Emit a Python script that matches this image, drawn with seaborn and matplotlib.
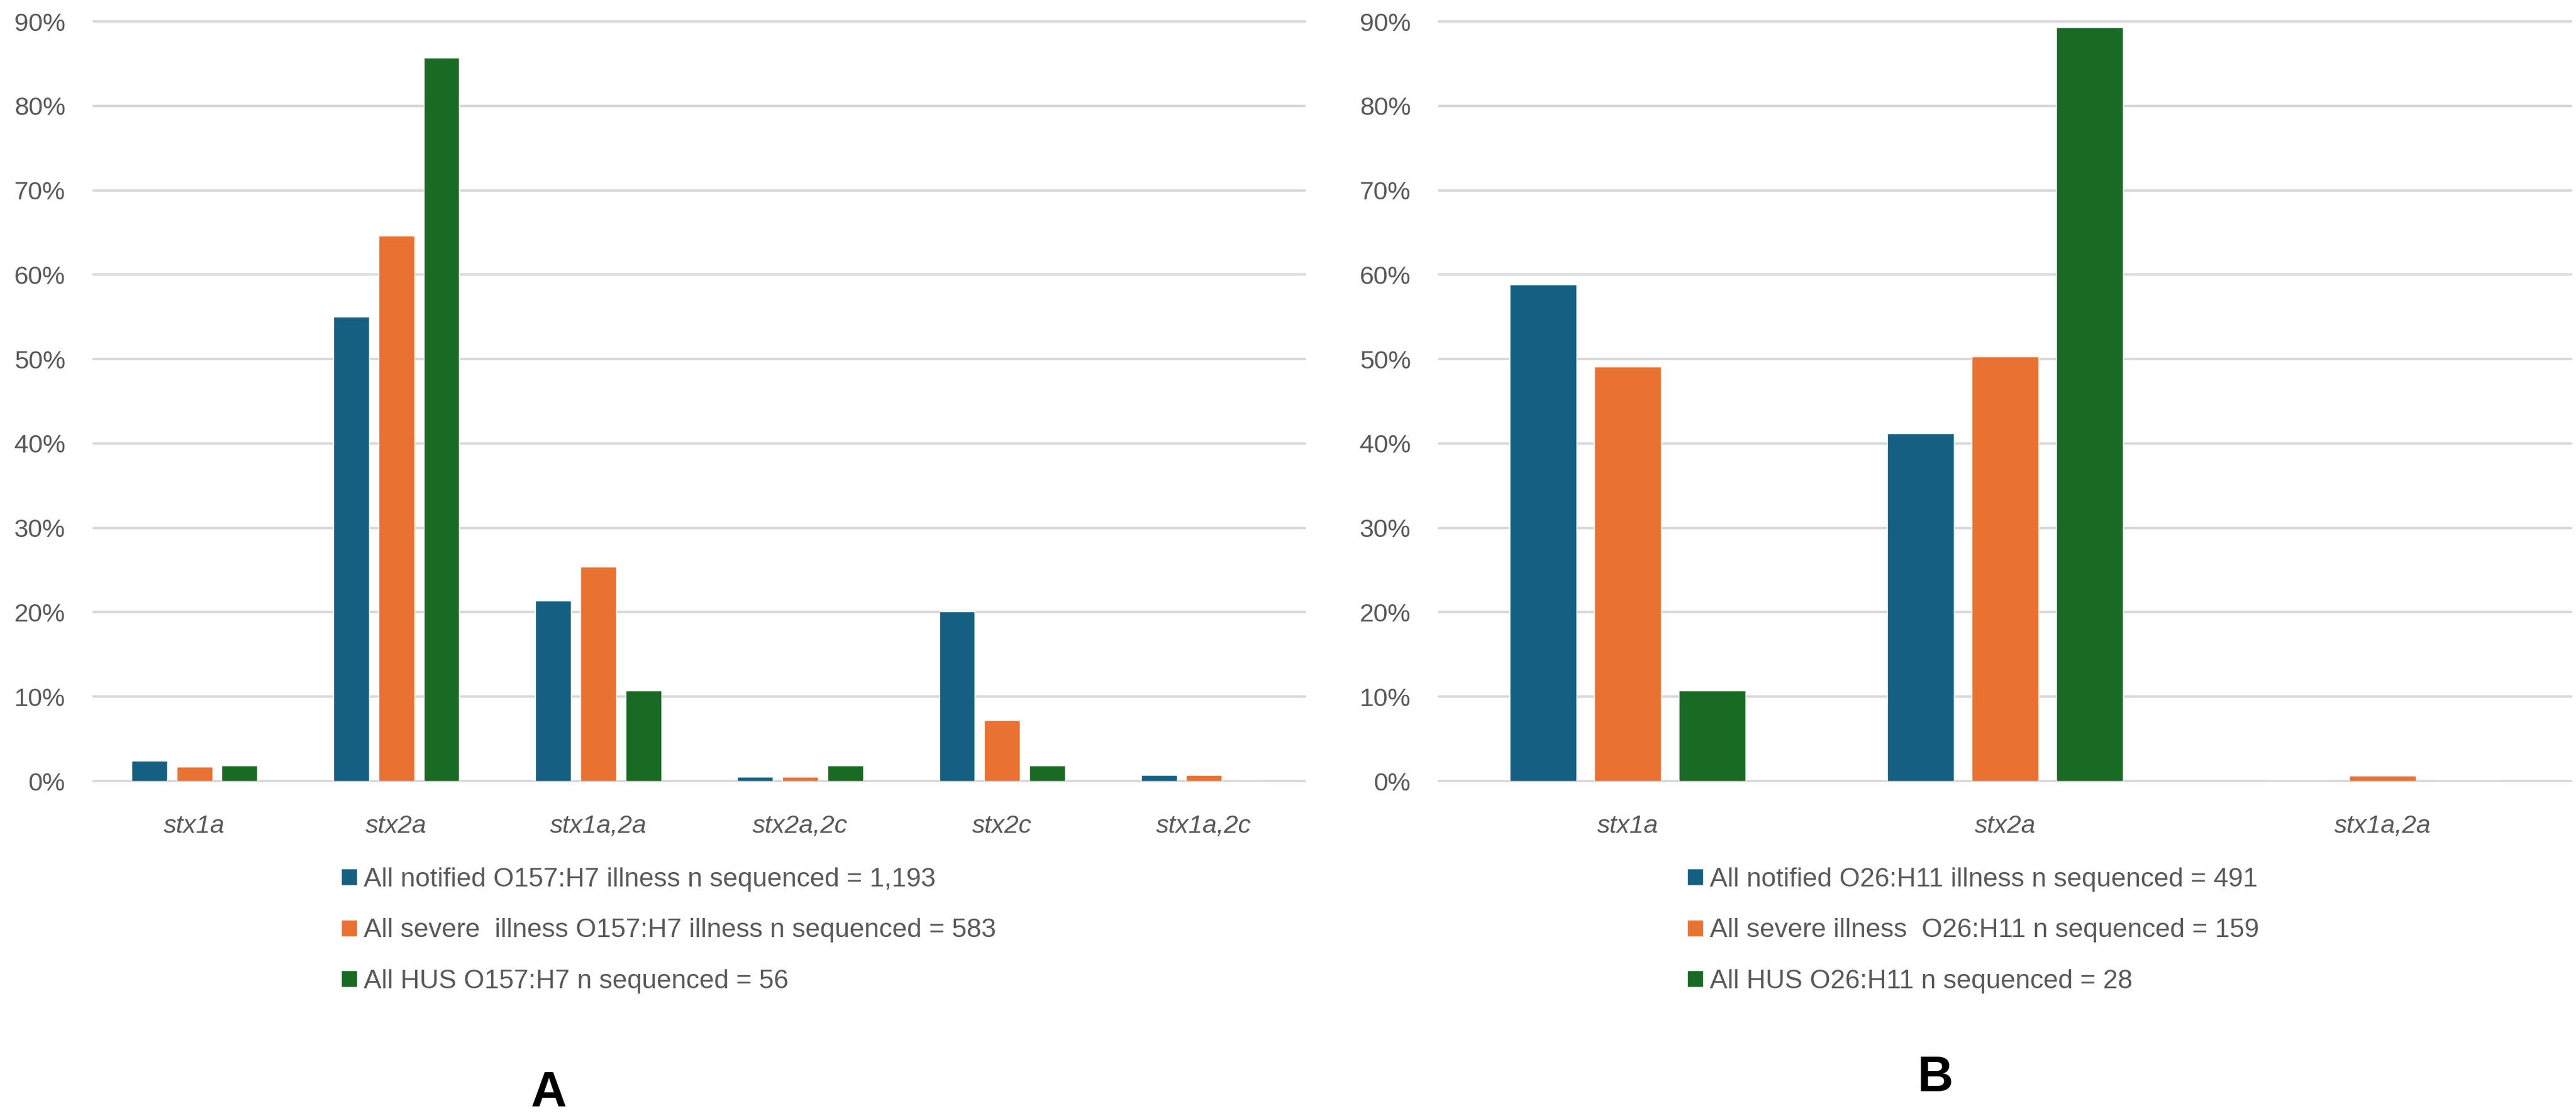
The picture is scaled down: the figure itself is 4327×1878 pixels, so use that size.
import matplotlib
matplotlib.use("Agg")
import matplotlib.pyplot as plt
from matplotlib.ticker import PercentFormatter
import seaborn as sns
import pandas as pd

# Panel A: O157:H7
o157_genes = ["stx1a", "stx2a", "stx1a,2a", "stx2a,2c", "stx2c", "stx1a,2c"]
o157_labels = [
    "All notified O157:H7 illness n sequenced = 1,193",
    "All severe  illness O157:H7 illness n sequenced = 583",
    "All HUS O157:H7 n sequenced = 56",
]
o157_notified = [2.4, 55.0, 21.4, 0.5, 20.1, 0.7]
o157_severe = [1.7, 64.6, 25.4, 0.5, 7.2, 0.7]
o157_hus = [1.8, 85.7, 10.7, 1.8, 1.8, 0.0]

# Panel B: O26:H11
o26_genes = ["stx1a", "stx2a", "stx1a,2a"]
o26_labels = [
    "All notified O26:H11 illness n sequenced = 491",
    "All severe illness  O26:H11 n sequenced = 159",
    "All HUS O26:H11 n sequenced = 28",
]
o26_notified = [58.8, 41.2, 0.0]
o26_severe = [49.1, 50.3, 0.6]
o26_hus = [10.7, 89.3, 0.0]

colors = ["#156082", "#E97132", "#196B24"]
text_grey = "#595959"
grid_grey = "#d9d9d9"

W, H = 4327, 1878

sns.set_theme(style="white")
plt.rcParams["font.family"] = ["Liberation Sans", "DejaVu Sans"]


def to_long(genes, labels, series):
    rows = []
    for label, values in zip(labels, series):
        for g, v in zip(genes, values):
            rows.append({"gene": g, "group": label, "pct": v})
    return pd.DataFrame(rows)


def draw_panel(ax, genes, labels, series, legend_x, legend_top):
    df = to_long(genes, labels, series)
    sns.barplot(data=df, x="gene", y="pct", hue="group", order=genes,
                hue_order=labels, palette=colors, saturation=1,
                width=0.67, gap=0.21, ax=ax)
    ax.set_xlim(-0.5, len(genes) - 0.5)
    ax.set_ylim(0, 90)
    ax.set_yticks(range(0, 91, 10))
    ax.yaxis.set_major_formatter(PercentFormatter(100, decimals=0))
    ax.set_xlabel("")
    ax.set_ylabel("")
    for s in ax.spines.values():
        s.set_visible(False)
    ax.grid(axis="y", color=grid_grey, linewidth=3)
    ax.set_axisbelow(True)
    for line in ax.get_ygridlines():
        line.set_clip_on(False)
    ax.tick_params(axis="y", length=0, pad=34, labelsize=31, labelcolor=text_grey)
    ax.tick_params(axis="x", length=0, pad=40, labelsize=31, labelcolor=text_grey)
    for t in ax.get_xticklabels():
        t.set_fontstyle("italic")

    handles, names = ax.get_legend_handles_labels()
    ax.get_legend().remove()
    fig.legend(handles, names, loc="upper left",
               bbox_to_anchor=(legend_x / W, 1 - legend_top / H),
               frameon=False, fontsize=32, labelcolor=text_grey,
               handlelength=0.6, handleheight=0.6, handletextpad=0.25,
               labelspacing=1.0, borderpad=0, borderaxespad=0)


fig = plt.figure(figsize=(W / 100, H / 100), dpi=100)
ax_a = fig.add_axes([157 / W, 1 - 1312 / H, 2035 / W, 1276 / H])
ax_b = fig.add_axes([2417 / W, 1 - 1312 / H, 1902 / W, 1276 / H])

draw_panel(ax_a, o157_genes, o157_labels, [o157_notified, o157_severe, o157_hus], 573, 1457)
draw_panel(ax_b, o26_genes, o26_labels, [o26_notified, o26_severe, o26_hus], 2834, 1457)

fig.text(922 / W, 1 - 1836 / H, "A", ha="center", va="center",
         fontsize=60, fontweight="bold", color="black")
fig.text(3251 / W, 1 - 1811 / H, "B", ha="center", va="center",
         fontsize=60, fontweight="bold", color="black")

fig.savefig("out.png", dpi=100, facecolor="white")
plt.close(fig)
